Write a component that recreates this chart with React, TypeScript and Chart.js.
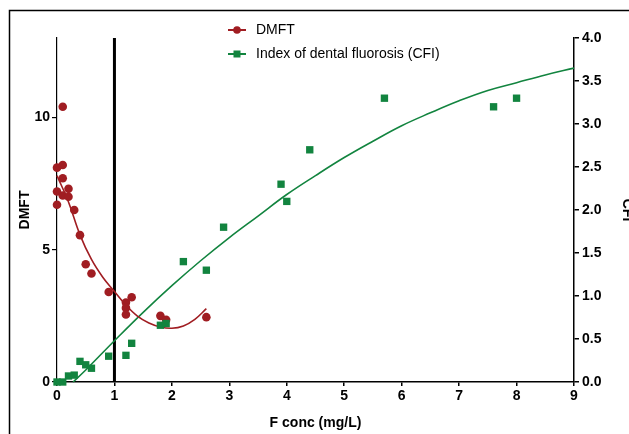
import { useEffect, useRef } from "react";
import { Chart, registerables } from "chart.js";

Chart.register(...registerables);

// DMFT observations (left axis)
const dmftX = [0.1, 0, 0.1, 0.1, 0, 0.2, 0.1, 0.2, 0, 0.3, 0.4, 0.5, 0.6, 0.9, 1.2, 1.2, 1.2, 1.3, 1.8, 1.9, 2.6];
const dmftY = [10.4, 8.1, 8.2, 7.7, 7.2, 7.3, 7.05, 7.0, 6.7, 6.5, 5.55, 4.45, 4.1, 3.4, 3.0, 2.8, 2.55, 3.2, 2.5, 2.35, 2.45];

// CFI observations (right axis)
const cfiX = [0, 0.1, 0.2, 0.3, 0.4, 0.5, 0.6, 0.9, 1.2, 1.3, 1.8, 1.9, 2.2, 2.6, 2.9, 3.9, 4.0, 4.4, 5.7, 7.6, 8.0];
const cfiY = [0, 0, 0.07, 0.08, 0.24, 0.2, 0.16, 0.3, 0.31, 0.45, 0.66, 0.68, 1.4, 1.3, 1.8, 2.3, 2.1, 2.7, 3.3, 3.2, 3.3];

// fitted curves
const dmftFitX = [0, 0.2, 0.4, 0.6, 0.8, 1.0, 1.2, 1.4, 1.6, 1.8, 2.0, 2.2, 2.4, 2.6];
const dmftFitY = [7.8, 6.8, 5.56, 4.63, 3.95, 3.42, 2.9, 2.49, 2.23, 2.08, 2.03, 2.12, 2.37, 2.77];

const cfiFitX = [0.28, 0.5, 1, 1.5, 2, 2.5, 3, 3.5, 4, 4.5, 5, 5.5, 6, 6.5, 7, 7.5, 8, 8.5, 9];
const cfiFitY = [0, 0.14, 0.48, 0.81, 1.12, 1.41, 1.68, 1.93, 2.18, 2.4, 2.61, 2.8, 2.98, 3.13, 3.27, 3.39, 3.48, 3.57, 3.65];

// reference line at 1 mg/L
const refX = [1, 1];
const refY = [0, 13];

const xTicks = [0, 1, 2, 3, 4, 5, 6, 7, 8, 9];
const leftTicks = [0, 5, 10];
const rightTicks = [0, 0.5, 1, 1.5, 2, 2.5, 3, 3.5, 4];

const RED = "#a01d22";
const GREEN = "#12843f";

const pts = (xs: number[], ys: number[]) => xs.map((x, i) => ({ x, y: ys[i] }));

const legendItems = [
  { label: "DMFT", color: RED, style: "circle" },
  { label: "Index of dental fluorosis (CFI)", color: GREEN, style: "rect" },
];

const decorPlugin = {
  id: "decor",
  beforeDraw(chart: any) {
    const ctx = chart.ctx;
    ctx.save();
    ctx.strokeStyle = "#000";
    ctx.lineWidth = 1.5;
    ctx.beginPath();
    ctx.moveTo(9.5, 434);
    ctx.lineTo(9.5, 10.5);
    ctx.lineTo(629, 10.5);
    ctx.stroke();
    ctx.restore();
  },
  afterDraw(chart: any) {
    const ctx = chart.ctx;
    ctx.save();
    legendItems.forEach((it, i) => {
      const y = 30 + i * 24;
      ctx.strokeStyle = it.color;
      ctx.fillStyle = it.color;
      ctx.lineWidth = 2;
      ctx.beginPath();
      ctx.moveTo(228, y);
      ctx.lineTo(246, y);
      ctx.stroke();
      if (it.style === "circle") {
        ctx.beginPath();
        ctx.arc(237, y, 3.8, 0, Math.PI * 2);
        ctx.fill();
      } else {
        ctx.fillRect(233.5, y - 3.5, 7, 7);
      }
      ctx.fillStyle = "#000";
      ctx.font = "14px 'Liberation Sans', Arial, sans-serif";
      ctx.textBaseline = "middle";
      ctx.textAlign = "left";
      ctx.fillText(it.label, 256, y);
    });
    ctx.restore();
  },
};

const tickFont = { family: "'Liberation Sans', Arial, sans-serif", size: 14, weight: "bold" as const };

export default function App() {
  const ref = useRef<HTMLCanvasElement | null>(null);

  useEffect(() => {
    document.body.style.margin = "0";
    if (!ref.current) return;
    const chart = new Chart(ref.current, {
      type: "scatter",
      data: {
        datasets: [
          {
            label: "CFI",
            data: pts(cfiX, cfiY),
            yAxisID: "y1",
            pointStyle: "rect",
            pointRadius: 5.2,
            backgroundColor: GREEN,
            borderColor: GREEN,
            borderWidth: 0,
            showLine: false,
            clip: false,
            order: 1,
          },
          {
            label: "DMFT",
            data: pts(dmftX, dmftY),
            yAxisID: "y",
            pointStyle: "circle",
            pointRadius: 4.3,
            backgroundColor: RED,
            borderColor: RED,
            borderWidth: 0,
            showLine: false,
            clip: false,
            order: 2,
          },
          {
            label: "DMFT fit",
            data: pts(dmftFitX, dmftFitY),
            yAxisID: "y",
            showLine: true,
            pointRadius: 0,
            borderColor: RED,
            borderWidth: 1.6,
            tension: 0.4,
            clip: false,
            order: 3,
          },
          {
            label: "CFI fit",
            data: pts(cfiFitX, cfiFitY),
            yAxisID: "y1",
            showLine: true,
            pointRadius: 0,
            borderColor: GREEN,
            borderWidth: 1.6,
            tension: 0.4,
            clip: false,
            order: 4,
          },
          {
            label: "1 mg/L",
            data: pts(refX, refY),
            yAxisID: "y",
            showLine: true,
            pointRadius: 0,
            borderColor: "#000",
            borderWidth: 3,
            clip: false,
            order: 5,
          },
        ],
      },
      options: {
        responsive: false,
        animation: false,
        layout: { padding: { top: 38, left: 0, right: 0, bottom: 0 } },
        plugins: { legend: { display: false }, tooltip: { enabled: false }, title: { display: false } },
        scales: {
          x: {
            type: "linear",
            min: 0,
            max: 9,
            afterBuildTicks: (s: any) => { s.ticks = xTicks.map((v) => ({ value: v })); },
            afterFit: (s: any) => { s.height = 52; },
            ticks: { font: tickFont, color: "#000", padding: 2 },
            grid: { display: true, drawOnChartArea: false, drawTicks: true, tickLength: 4, color: "#000", lineWidth: 1.5 },
            border: { display: true, color: "#000", width: 1.5 },
            title: {
              display: true,
              text: "F conc (mg/L)",
              color: "#000",
              font: tickFont,
              padding: { top: 0, bottom: 2 },
            },
          },
          y: {
            type: "linear",
            position: "left",
            min: 0,
            max: 13,
            afterBuildTicks: (s: any) => { s.ticks = leftTicks.map((v) => ({ value: v })); },
            afterFit: (s: any) => { s.width = 57; },
            ticks: { font: tickFont, color: "#000", padding: 2 },
            grid: { display: true, drawOnChartArea: false, drawTicks: true, tickLength: 5, color: "#000", lineWidth: 1.2 },
            border: { display: true, color: "#000", width: 1.2 },
            title: {
              display: true,
              text: "DMFT",
              color: "#000",
              font: tickFont,
              padding: { top: 17, bottom: 0 },
            },
          },
          y1: {
            type: "linear",
            position: "right",
            min: 0,
            max: 4,
            afterBuildTicks: (s: any) => { s.ticks = rightTicks.map((v) => ({ value: v })); },
            afterFit: (s: any) => { s.width = 55; },
            ticks: { font: tickFont, color: "#000", padding: 3, callback: (v: any) => Number(v).toFixed(1) },
            grid: { display: true, drawOnChartArea: false, drawTicks: true, tickLength: 5, color: "#000", lineWidth: 1.5 },
            border: { display: true, color: "#000", width: 1.5 },
            title: {
              display: true,
              text: "CFI",
              color: "#000",
              font: tickFont,
              padding: { top: -6, bottom: 0 },
            },
          },
        },
      },
      plugins: [decorPlugin],
    } as any);
    return () => chart.destroy();
  }, []);

  return (
    <div style={{ width: 629, height: 434, position: "relative", background: "#fff" }}>
      <canvas ref={ref} width={629} height={434} style={{ display: "block", width: 629, height: 434 }} />
    </div>
  );
}
